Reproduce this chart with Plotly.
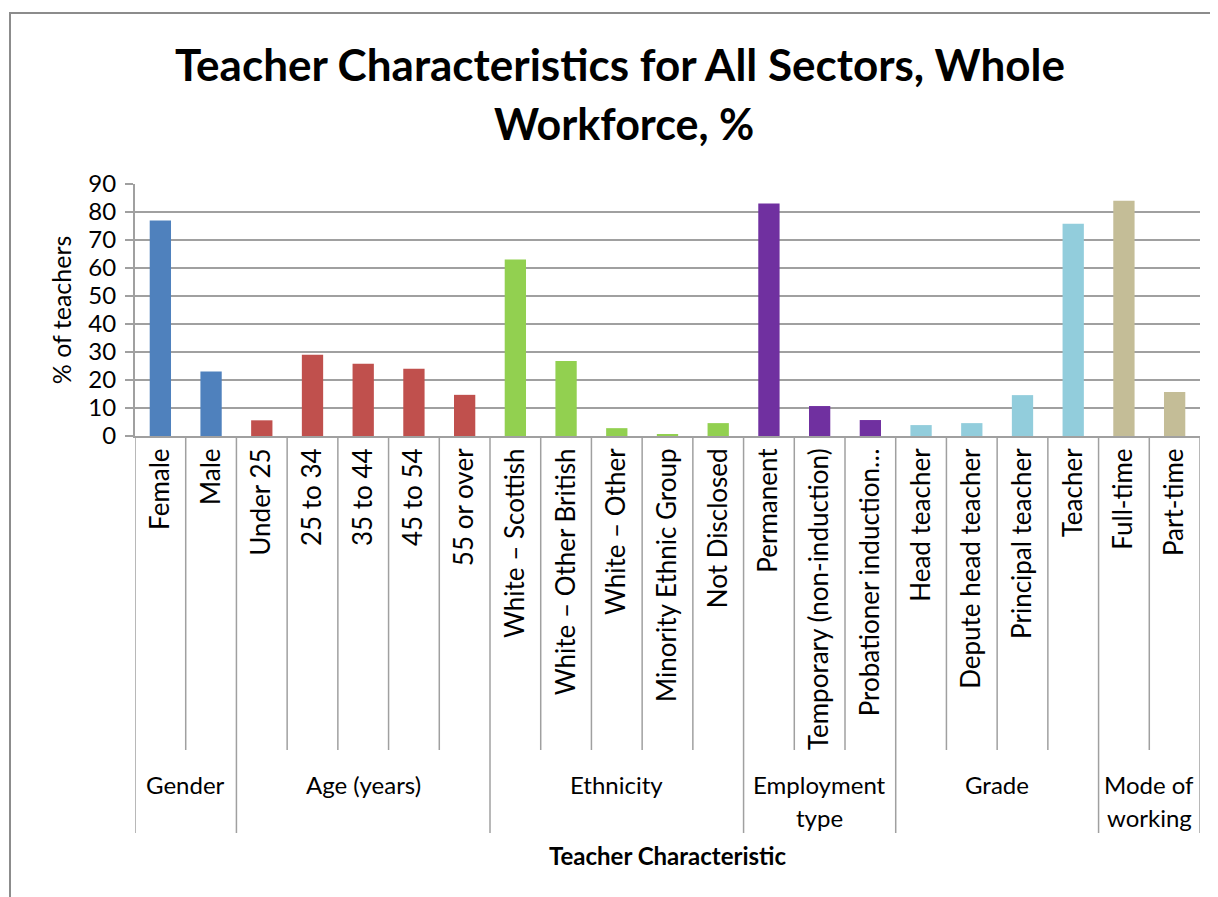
import plotly.graph_objects as go

categories = ["Female", "Male", "Under 25", "25 to 34", "35 to 44", "45 to 54", "55 or over",
              "White – Scottish", "White – Other British", "White – Other", "Minority Ethnic Group",
              "Not Disclosed", "Permanent", "Temporary (non-induction)", "Probationer induction…",
              "Head teacher", "Depute head teacher", "Principal teacher", "Teacher",
              "Full-time", "Part-time"]
values = [77, 23, 5.6, 29, 25.8, 24, 14.7, 63, 26.8, 2.8, 0.7, 4.6, 83, 10.7, 5.7,
          3.9, 4.6, 14.6, 75.8, 84, 15.7]
groups = [["Gender"], ["Age (years)"], ["Ethnicity"], ["Employment", "type"], ["Grade"], ["Mode of", "working"]]
group_sizes = [2, 5, 5, 3, 4, 2]
group_colors = ["#4F81BD", "#C0504D", "#92D050", "#7030A0", "#92CDDC", "#C4BD97"]
y_ticks = [0, 10, 20, 30, 40, 50, 60, 70, 80, 90]

colors = []
for c, n in zip(group_colors, group_sizes):
    colors += [c] * n

FONT = "Lato"
GRAY = "#A0A0A0"

# page body margin offsets the figure by 8px
OFF = 8
W, H = 1218 - OFF, 897 - OFF
# target pixel geometry in the screenshot (plot area: x 135..1200, y 184..436)
L, R, T, B = 135 - OFF, 1200 - OFF, 184 - OFF, 436 - OFF

def py(px):
    return (B - (px - OFF)) / (B - T)

def px_x(px):
    return ((px - OFF) - L) / (R - L)

fig = go.Figure()
fig.add_trace(go.Bar(x=categories, y=values, marker=dict(color=colors, line=dict(width=0)),
                     width=0.42, hoverinfo="x+y"))

shapes = []
bounds = [0]
for n in group_sizes:
    bounds.append(bounds[-1] + n)
for i in range(0, len(categories) + 1):
    xpos = i - 0.5
    y1 = py(833) if i in bounds else py(750)
    shapes.append(dict(type="line", xref="x", yref="paper", x0=xpos, x1=xpos, y0=0, y1=y1,
                       line=dict(color=GRAY, width=1.5)))
# outer chart border
shapes.append(dict(type="rect", xref="paper", yref="paper", x0=px_x(10), x1=px_x(1240),
                   y0=py(920), y1=py(13), line=dict(color="#8C8C8C", width=2)))

annotations = []
for lines, start, n in zip(groups, bounds[:-1], group_sizes):
    center = start + (n - 1) / 2
    ys = [784, 817]
    for k, txt in enumerate(lines):
        annotations.append(dict(x=center, xref="x", y=py(ys[k]), yref="paper", text=txt,
                                showarrow=False, xanchor="center", yanchor="middle",
                                font=dict(family=FONT, size=24, color="#000")))
annotations.append(dict(x=px_x(668), xref="paper", y=py(855), yref="paper",
                        text="<b>Teacher Characteristic</b>",
                        showarrow=False, xanchor="center", yanchor="middle",
                        font=dict(family=FONT, size=24, color="#000")))
annotations.append(dict(x=px_x(620), xref="paper", y=py(64), yref="paper",
                        text="<b>Teacher Characteristics for All Sectors, Whole</b>",
                        showarrow=False, xanchor="center", yanchor="middle",
                        font=dict(family=FONT, size=44, color="#000")))
annotations.append(dict(x=px_x(624), xref="paper", y=py(124), yref="paper",
                        text="<b>Workforce, %</b>",
                        showarrow=False, xanchor="center", yanchor="middle",
                        font=dict(family=FONT, size=43, color="#000")))

fig.update_layout(
    width=W, height=H,
    margin=dict(l=L, r=W - R, t=T, b=H - B, pad=0),
    paper_bgcolor="white", plot_bgcolor="white",
    showlegend=False,
    shapes=shapes, annotations=annotations,
    font=dict(family=FONT, size=20, color="#000"),
    xaxis=dict(type="category", categoryorder="array", categoryarray=categories,
               range=[-0.5, len(categories) - 0.5],
               tickangle=-90, tickfont=dict(family=FONT, size=26, color="#000"),
               showline=True, linecolor=GRAY, linewidth=2, ticks="", showgrid=False,
               ticklabelstandoff=0),
    yaxis=dict(range=[0, 90], tickvals=y_ticks, ticktext=[str(v) for v in y_ticks],
               showline=True, linecolor=GRAY, linewidth=2, ticks="outside", ticklen=8,
               tickcolor=GRAY, tickwidth=2,
               showgrid=True, gridcolor=GRAY, gridwidth=2, zeroline=False,
               tickfont=dict(family=FONT, size=24, color="#000"),
               ticklabelstandoff=4,
               title=dict(text="% of teachers", font=dict(family=FONT, size=25, color="#000"),
                          standoff=10)),
)

fig.write_html("out.html")
